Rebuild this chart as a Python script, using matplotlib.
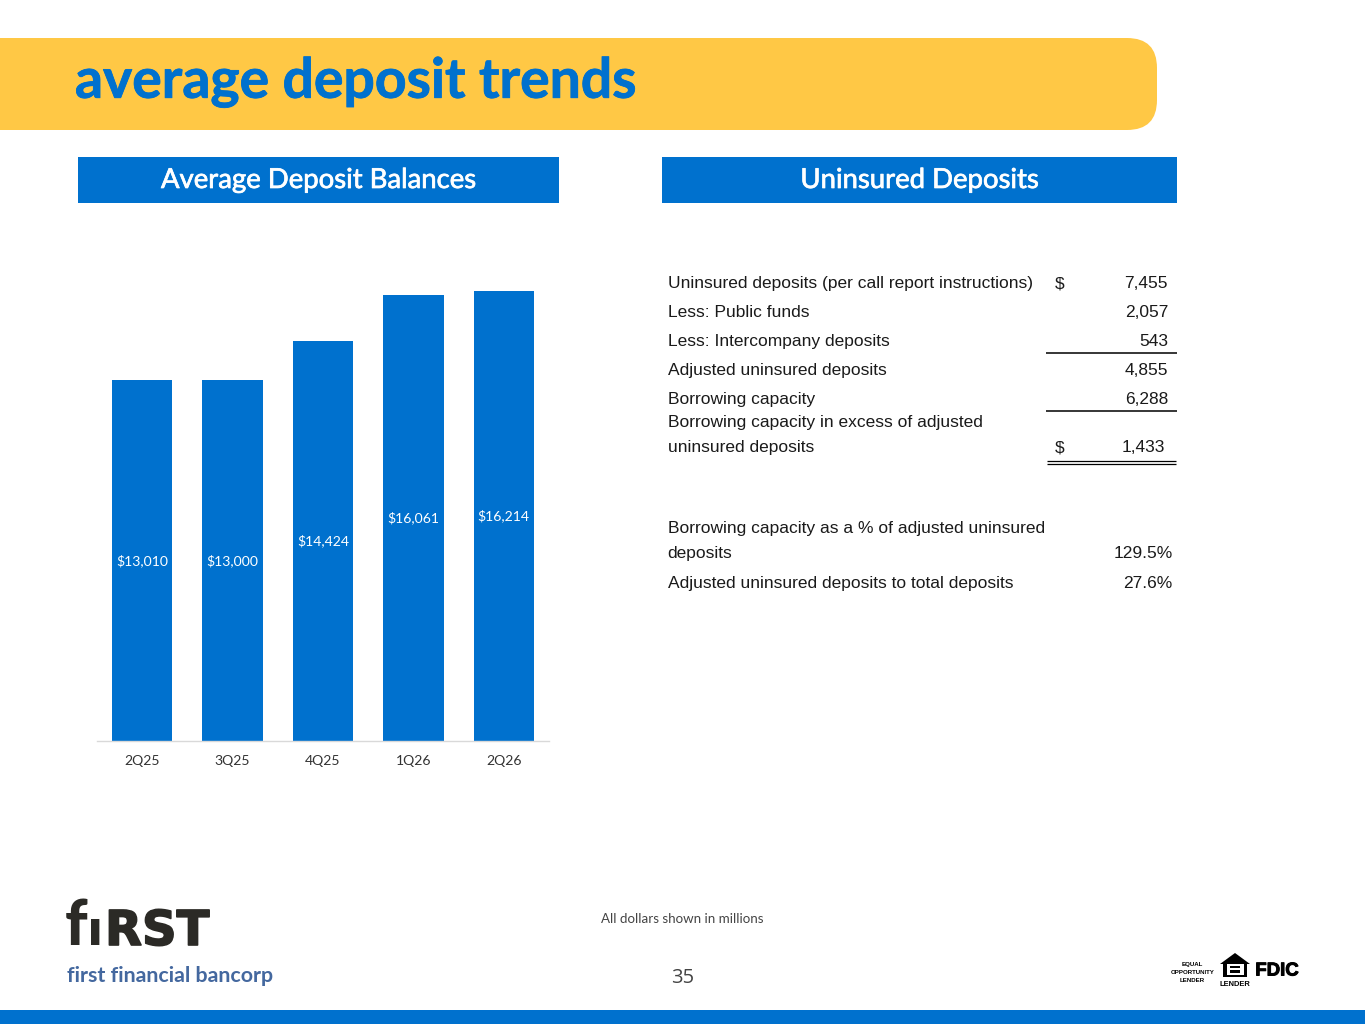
import matplotlib
matplotlib.use("Agg")
import matplotlib.pyplot as plt
import matplotlib.patheffects as pe
from matplotlib.patches import FancyBboxPatch, Rectangle, Polygon

BLUE = "#0071CE"
YELLOW = "#FFC845"
W, H = 1365, 1024

quarters = ["2Q25", "3Q25", "4Q25", "1Q26", "2Q26"]
balances = [13010, 13000, 14424, 16061, 16214]

table_rows = [
    ("Uninsured deposits (per call report instructions)", "$", "7,455", 288),
    ("Less: Public funds", "", "2,057", 317),
    ("Less: Intercompany deposits", "", "543", 346),
    ("Adjusted uninsured deposits", "", "4,855", 375),
    ("Borrowing capacity", "", "6,288", 404),
]
excess_lines = ["Borrowing capacity in excess of adjusted", "uninsured deposits"]
excess_value = "1,433"
ratio_lines = ["Borrowing capacity as a % of adjusted uninsured", "deposits"]
ratio_value = "129.5%"
share_label = "Adjusted uninsured deposits to total deposits"
share_value = "27.6%"

fig = plt.figure(figsize=(W / 100, H / 100), dpi=100, facecolor="white")

bg = fig.add_axes([0, 0, 1, 1])
bg.set_xlim(0, W)
bg.set_ylim(H, 0)
bg.axis("off")

HEAD = "Lato"
ARIAL = "Liberation Sans"
TXT = "#1a1a1a"

# Banner
bg.add_patch(FancyBboxPatch((-60, 38), 1217, 92, boxstyle="round,pad=0,rounding_size=30",
                            fc=YELLOW, ec="none"))
bg.text(75, 82, "average deposit trends", family=HEAD, weight="bold", fontsize=39.8,
        color=BLUE, va="center", ha="left",
        path_effects=[pe.withStroke(linewidth=0.6, foreground=BLUE)])

# Section headers
for x0, x1, label in [(78, 559, "Average Deposit Balances"), (662, 1177, "Uninsured Deposits")]:
    bg.add_patch(Rectangle((x0, 157), x1 - x0, 46, fc=BLUE, ec="none"))
    bg.text((x0 + x1) / 2, 180, label, family=HEAD, fontsize=19.8,
            color="white", ha="center", va="center",
            path_effects=[pe.withStroke(linewidth=0.5, foreground="white")])


def cell(x, y, s, ha="left"):
    bg.text(x, y, s, family=ARIAL, fontsize=12.5, color=TXT, va="baseline", ha=ha)


# Table
LX, DX, VX = 667.5, 1055, 1168
for label, sign, val, y in table_rows:
    cell(LX, y, label)
    if sign:
        cell(DX, y, sign)
    cell(VX, y, val, "right")
cell(LX, 427, excess_lines[0])
cell(LX, 452, excess_lines[1])
cell(DX, 452, "$")
cell(1165, 452, excess_value, "right")
cell(LX, 533, ratio_lines[0])
cell(LX, 558, ratio_lines[1])
cell(1172.5, 558, ratio_value, "right")
cell(LX, 588, share_label)
cell(1172.5, 588, share_value, "right")
for y in (353, 410.5):
    bg.plot([1046, 1177], [y, y], color="black", lw=1.1, solid_capstyle="butt")
for y in (461, 464):
    bg.plot([1047, 1176], [y, y], color="black", lw=0.9, solid_capstyle="butt")

# Footer
bg.text(682.5, 919, "All dollars shown in millions", family=HEAD,
        fontsize=9.6, color="#444444", ha="center", va="center")
bg.text(682.5, 978, "35", family="Open Sans", fontsize=14.5, color="#444444", ha="center", va="center")
bg.add_patch(Rectangle((0, 1010), W, 14, fc=BLUE, ec="none"))

# Logo
INK = "#2b2a26"
bg.text(65, 945, "f", family=HEAD, weight="black", fontsize=45, color=INK, ha="left", va="baseline")
bg.text(87, 945, "ı", family="DejaVu Sans", weight="bold", fontsize=34.6, color=INK, ha="left", va="baseline")
bg.text(105, 945, "RST", family="DejaVu Sans", weight="bold", fontsize=34.6, color=INK, ha="left", va="baseline",
        path_effects=[pe.withStroke(linewidth=1.2, foreground=INK)])
bg.text(67, 976, "first financial bancorp", family=HEAD, weight="bold", fontsize=15.4,
        color="#44689f", ha="left", va="center")

# Lender marks
for y, s in [(964.5, "EQUAL"), (972.5, "OPPORTUNITY"), (980.5, "LENDER")]:
    bg.text(1192.5, y, s, family=ARIAL, weight="bold",
            fontsize=4.4, color="black", ha="center", va="center")
bg.add_patch(Polygon([(1220, 964), (1235, 953), (1250, 964), (1247, 964), (1247, 977),
                      (1223, 977), (1223, 964)], closed=True, fc="black", ec="none"))
bg.add_patch(Rectangle((1226.5, 964), 17, 10.5, fc="white", ec="none"))
bg.add_patch(Rectangle((1230, 965.5), 10, 2.5, fc="black", ec="none"))
bg.add_patch(Rectangle((1230, 970), 10, 2.5, fc="black", ec="none"))
bg.text(1234.5, 984, "LENDER", family=ARIAL, weight="bold", fontsize=5.4, color="black",
        ha="center", va="center")
bg.text(1277, 971, "FDIC", family=ARIAL, weight="bold", fontsize=13.4, color="black",
        ha="center", va="center", path_effects=[pe.withStroke(linewidth=0.7, foreground="black")])

# Bar chart
ax = fig.add_axes([97 / W, 1 - 741 / H, 452 / W, 500 / H], facecolor="none")
xs = list(range(len(quarters)))
ax.bar(xs, balances, width=0.667, color=BLUE)
ax.set_xlim(-0.5, 4.5)
ax.set_ylim(0, 500 / 0.02775)
for x, v in zip(xs, balances):
    ax.text(x, v / 2, f"${v:,}", color="white", family=HEAD, fontsize=10.1, ha="center", va="center")
ax.set_xticks(xs, quarters, family=HEAD, fontsize=10.1, color="#333333")
ax.tick_params(axis="x", length=0, pad=10)
ax.set_yticks([])
for s in ("top", "left", "right"):
    ax.spines[s].set_visible(False)
ax.spines["bottom"].set_color("#d9d9d9")
ax.spines["bottom"].set_linewidth(1)

fig.savefig("out.png", dpi=100)
